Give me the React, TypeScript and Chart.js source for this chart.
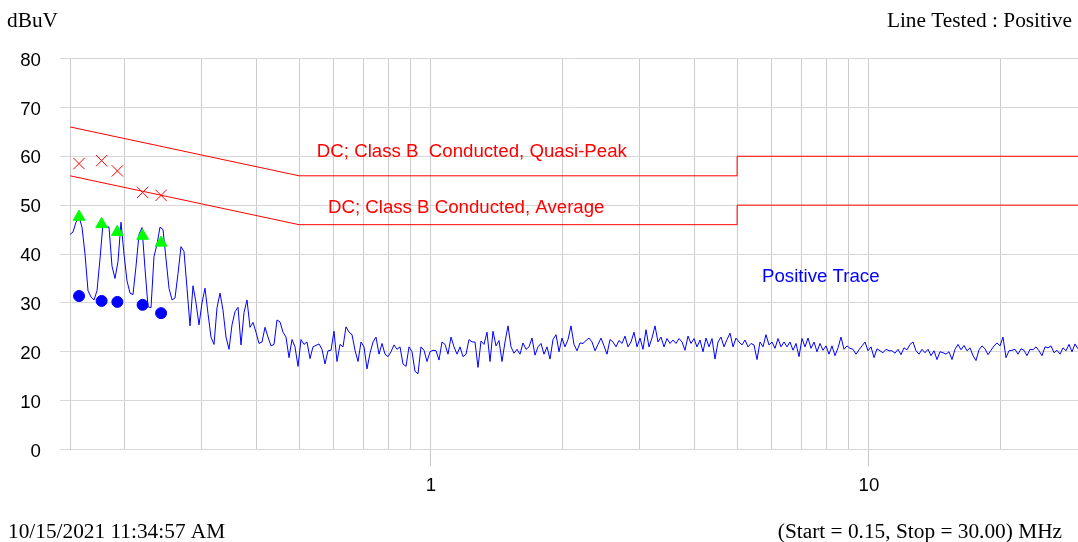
import React, { useEffect, useRef } from 'react';
import { Chart, registerables } from 'chart.js';

Chart.register(...registerables);

// ---- Data ----
const sweepStartMHz = 0.15;
const sweepStopMHz = 30;

// Positive trace (dBuV), log-spaced sweep from 0.15 to 30 MHz
const positiveTrace = [
  44.0, 44.5, 46.5, 47.6, 45.5, 40.0, 32.5, 31.2, 30.6, 32.5,
  39.0, 46.3, 45.6, 45.5, 37.5, 35.0, 38.5, 46.5, 40.0, 34.5,
  32.0, 31.7, 37.5, 44.0, 45.4, 37.0, 29.2, 29.0, 39.5, 42.0,
  45.5, 45.0, 39.0, 33.0, 30.6, 31.0, 36.0, 41.5, 40.5, 33.0,
  25.3, 33.5, 30.0, 25.5, 30.0, 33.0, 27.8, 23.0, 21.5, 29.0,
  32.0, 28.5, 23.0, 20.5, 25.5, 28.2, 29.1, 21.4, 28.0, 30.6,
  25.0, 26.0, 24.0, 21.7, 22.0, 25.0, 23.0, 21.2, 21.5, 26.5,
  26.1, 24.0, 23.0, 18.8, 22.5, 21.0, 17.0, 22.5, 21.5, 22.0,
  18.6, 21.0, 21.3, 21.6, 20.5, 17.5, 20.2, 20.3, 24.2,
  18.0, 21.5, 21.0, 25.1, 24.0, 23.5, 20.3, 18.0, 22.0, 21.0,
  16.5, 19.7, 22.0, 23.0, 19.5, 21.7, 19.5, 19.0, 20.0, 21.4,
  20.5, 21.0, 17.5, 17.0, 21.0, 20.0, 16.0, 15.5, 21.0, 20.3,
  18.0, 20.0, 20.3, 20.2, 18.3, 22.0, 21.5, 19.5, 23.0, 21.0,
  19.5, 21.0, 19.0, 19.5, 22.5, 22.0, 22.0, 16.8, 22.2, 21.5,
  24.0, 18.0, 24.2, 21.2, 22.3, 18.0, 22.0, 25.3, 21.0, 19.7,
  20.5, 19.5, 21.8, 20.5, 21.0, 22.8, 19.3, 21.0, 21.7, 19.5,
  21.0, 18.5, 22.5, 23.5, 20.0, 22.8, 21.0, 22.5, 25.3, 21.5,
  20.2, 21.8, 21.7, 22.3, 22.8, 22.0, 20.2, 21.5, 22.8, 21.2,
  19.5, 22.5, 22.0, 21.0, 22.3, 21.7, 23.2, 21.0, 22.0, 24.0,
  21.0, 22.8, 20.5, 24.5, 21.0, 22.8, 25.3, 22.0, 23.0, 21.0,
  22.7, 21.7, 22.4, 21.7, 22.7, 22.0, 20.3, 23.2, 21.7, 22.7,
  21.0, 22.4, 20.0, 22.8, 21.0, 22.7, 18.5, 22.0, 23.0, 21.0,
  22.5, 23.8, 21.0, 22.8, 22.0, 21.4, 22.4, 21.0, 21.7, 21.4,
  18.4, 22.0, 21.0, 23.5, 21.4, 22.0, 20.7, 22.7, 21.0, 22.0,
  21.0, 22.0, 20.3, 21.7, 19.0, 22.7, 21.0, 22.8, 20.7, 22.0,
  20.0, 21.7, 20.3, 21.2, 19.5, 21.2, 19.2, 20.8, 23.0, 20.5,
  21.2, 20.7, 20.5, 19.5, 20.4, 21.2, 22.0, 20.2, 21.0, 18.8,
  20.6, 20.2, 19.8, 20.5, 20.2, 20.2, 19.7, 20.5, 19.4, 20.8,
  20.4, 21.5, 22.0, 20.2, 19.5, 20.5, 19.8, 20.5, 19.2, 20.2,
  18.4, 20.0, 19.8, 19.5, 20.0, 18.4, 20.5, 21.5, 20.4, 21.3,
  20.2, 20.8, 19.2, 18.2, 20.4, 21.2, 20.6, 19.4, 20.3, 21.2,
  21.8, 21.2, 23.0, 18.8, 20.2, 20.3, 20.5, 19.5, 20.6, 20.3,
  19.2, 20.5, 20.4, 21.0, 20.2, 19.2, 21.0, 20.8, 21.2, 19.8,
  20.3, 19.5, 20.8, 20.2, 21.5, 20.0, 21.6, 20.6,
];

// Final measurement markers (MHz)
const markerFreqs = [0.1573, 0.1771, 0.1924, 0.2197, 0.2421];
const quasiPeakReadings = [58.5, 59.1, 57.0, 52.6, 52.0];
const averagePeakReadings = [47.6, 46.1, 44.5, 43.7, 42.3];
const averageReadings = [31.4, 30.4, 30.2, 29.6, 27.9];

// Limit lines
const qpLimitFreqs = [0.15, 0.5, 5, 5, 30];
const qpLimitValues = [66, 56, 56, 60, 60];
const avLimitFreqs = [0.15, 0.5, 5, 5, 30];
const avLimitValues = [56, 46, 46, 50, 50];

// Axis
const xGridValues = [0.2, 0.3, 0.4, 0.5, 0.6, 0.7, 0.8, 0.9, 1, 2, 3, 4, 5, 6, 7, 8, 9, 10, 20, 30];
const xLabelValues = [1, 10];
const yMin = 0;
const yMax = 80;
const yStep = 10;

// Texts
const yUnit = 'dBuV';
const lineTested = 'Line Tested : Positive';
const timestamp = '10/15/2021 11:34:57 AM';
const sweepText = '(Start = 0.15, Stop = 30.00) MHz';
const qpLabel = 'DC; Class B  Conducted, Quasi-Peak';
const avLabel = 'DC; Class B Conducted, Average';
const traceLabel = 'Positive Trace';

const SANS = '"Liberation Sans", Arial, sans-serif';
const SERIF = '"Liberation Serif", "Times New Roman", serif';

const textPlugin = {
  id: 'emcTexts',
  afterDraw(chart: any) {
    const ctx = chart.ctx;
    const xs = chart.scales.x;
    const ys = chart.scales.y;
    ctx.save();
    ctx.font = `18.67px ${SANS}`;
    ctx.textBaseline = 'middle';
    ctx.textAlign = 'left';
    ctx.fillStyle = '#ff0000';
    ctx.fillText(qpLabel, xs.getPixelForValue(0.549), ys.getPixelForValue(60.8));
    ctx.fillText(avLabel, xs.getPixelForValue(0.582), ys.getPixelForValue(49.4));
    ctx.fillStyle = '#0000ff';
    ctx.fillText(traceLabel, xs.getPixelForValue(5.70), ys.getPixelForValue(35.3));

    ctx.font = `21.33px ${SERIF}`;
    ctx.fillStyle = '#000000';
    ctx.textBaseline = 'alphabetic';
    ctx.textAlign = 'left';
    ctx.fillText(yUnit, 7, 27);
    ctx.fillText(timestamp, 8, 538);
    ctx.textAlign = 'right';
    ctx.fillText(lineTested, 1072, 27);
    ctx.fillText(sweepText, 1062, 538);
    ctx.restore();
  },
};

export default function App() {
  const canvasRef = useRef<HTMLCanvasElement | null>(null);

  useEffect(() => {
    if (!canvasRef.current) return;
    const n = positiveTrace.length;
    const ratio = sweepStopMHz / sweepStartMHz;
    const traceData = positiveTrace.map((v, i) => ({
      x: sweepStartMHz * Math.pow(ratio, i / (n - 1)),
      y: v,
    }));
    const pts = (fs: number[], vs: number[]) => fs.map((f, i) => ({ x: f, y: vs[i] }));

    const chart = new Chart(canvasRef.current, {
      type: 'line',
      data: {
        datasets: [
          {
            label: 'QP',
            data: pts(markerFreqs, quasiPeakReadings),
            showLine: false,
            pointStyle: 'crossRot',
            pointRadius: 8,
            borderColor: '#ff0000',
            backgroundColor: '#ff0000',
            pointBorderWidth: 1,
            order: 0,
          },
          {
            label: 'AVpk',
            data: pts(markerFreqs, averagePeakReadings),
            showLine: false,
            pointStyle: 'triangle',
            pointRadius: 6.8,
            borderColor: '#00ff00',
            backgroundColor: '#00ff00',
            pointBorderWidth: 1,
            order: 1,
          },
          {
            label: 'AV',
            data: pts(markerFreqs, averageReadings),
            showLine: false,
            pointStyle: 'circle',
            pointRadius: 5.5,
            borderColor: '#0000ff',
            backgroundColor: '#0000ff',
            pointBorderWidth: 1,
            order: 2,
          },
          {
            label: 'Positive Trace',
            data: traceData,
            borderColor: '#0000ff',
            borderWidth: 1,
            pointRadius: 0,
            tension: 0,
            order: 3,
          },
          {
            label: 'QP limit',
            data: pts(qpLimitFreqs, qpLimitValues),
            borderColor: '#ff0000',
            borderWidth: 1,
            pointRadius: 0,
            tension: 0,
            order: 4,
          },
          {
            label: 'AV limit',
            data: pts(avLimitFreqs, avLimitValues),
            borderColor: '#ff0000',
            borderWidth: 1,
            pointRadius: 0,
            tension: 0,
            order: 5,
          },
        ],
      },
      options: {
        responsive: false,
        devicePixelRatio: 1,
        animation: false,
        events: [],
        layout: { autoPadding: false, padding: { top: 58.5, left: 0, right: 0, bottom: 0 } },
        plugins: {
          legend: { display: false },
          tooltip: { enabled: false },
          title: { display: false },
        },
        scales: {
          x: {
            type: 'logarithmic',
            min: sweepStartMHz,
            max: sweepStopMHz,
            afterBuildTicks: (scale: any) => {
              scale.ticks = xGridValues.map((v) => ({ value: v }));
            },
            afterFit: (scale: any) => {
              scale.height = 92.5;
              scale.paddingLeft = 0;
              scale.paddingRight = 0;
            },
            border: { display: false },
            grid: {
              color: '#cccccc',
              lineWidth: 1,
              drawTicks: true,
              tickLength: 17,
              tickColor: (ctx: any) =>
                ctx.tick && xLabelValues.includes(ctx.tick.value) ? '#c8c8c8' : 'rgba(0,0,0,0)',
            },
            ticks: {
              autoSkip: false,
              maxRotation: 0,
              minRotation: 0,
              padding: 8,
              color: '#000000',
              font: { family: SANS, size: 18.67 },
              callback: (value: any) => (xLabelValues.includes(Number(value)) ? String(value) : ''),
            },
          },
          y: {
            type: 'linear',
            min: yMin,
            max: yMax,
            afterFit: (scale: any) => {
              scale.width = 70;
              scale.paddingTop = 0;
              scale.paddingBottom = 0;
            },
            border: { display: true, color: '#cccccc' },
            grid: {
              color: '#d8d8d8',
              lineWidth: 1,
              drawTicks: true,
              tickLength: 10,
              tickColor: '#d8d8d8',
            },
            ticks: {
              stepSize: yStep,
              padding: 19,
              labelOffset: 2,
              color: '#000000',
              font: { family: SANS, size: 18.67 },
            },
          },
        },
      },
      plugins: [textPlugin],
    } as any);

    return () => {
      chart.destroy();
    };
  }, []);

  return (
    <canvas
      ref={canvasRef}
      width={1078}
      height={542}
      style={{ position: 'fixed', left: 0, top: 0, display: 'block' }}
    />
  );
}
